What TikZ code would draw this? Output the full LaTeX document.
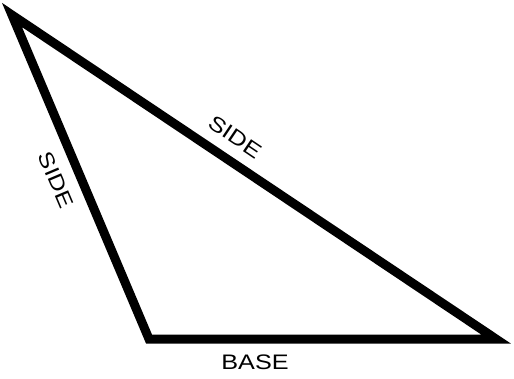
\documentclass[tikz,border=0pt]{standalone}
\usepackage{graphicx}
\usepackage{fontspec}
\setmainfont{Liberation Sans}
\begin{document}
\begin{tikzpicture}[x=1pt,y=-1pt,
  edge/.style={line width=9pt,line join=miter,black},
  lbl/.style={font=\fontsize{21}{24}\selectfont,inner sep=0pt}]
\useasboundingbox (0,0) rectangle (514,378);
\coordinate (A) at (12,15);
\coordinate (B) at (149,339);
\coordinate (C) at (496,339);
\draw[edge] (A) -- (B) -- (C) -- cycle;
\node[lbl] (base) at (255,362.5) {\scalebox{1.2}[1]{BASE}};
\node[lbl,rotate=-34] (hyp) at (235,137) {\scalebox{1.2}[1]{SIDE}};
\node[lbl,rotate=-67] (left) at (56,180) {\scalebox{1.2}[1]{SIDE}};
\end{tikzpicture}
\end{document}
